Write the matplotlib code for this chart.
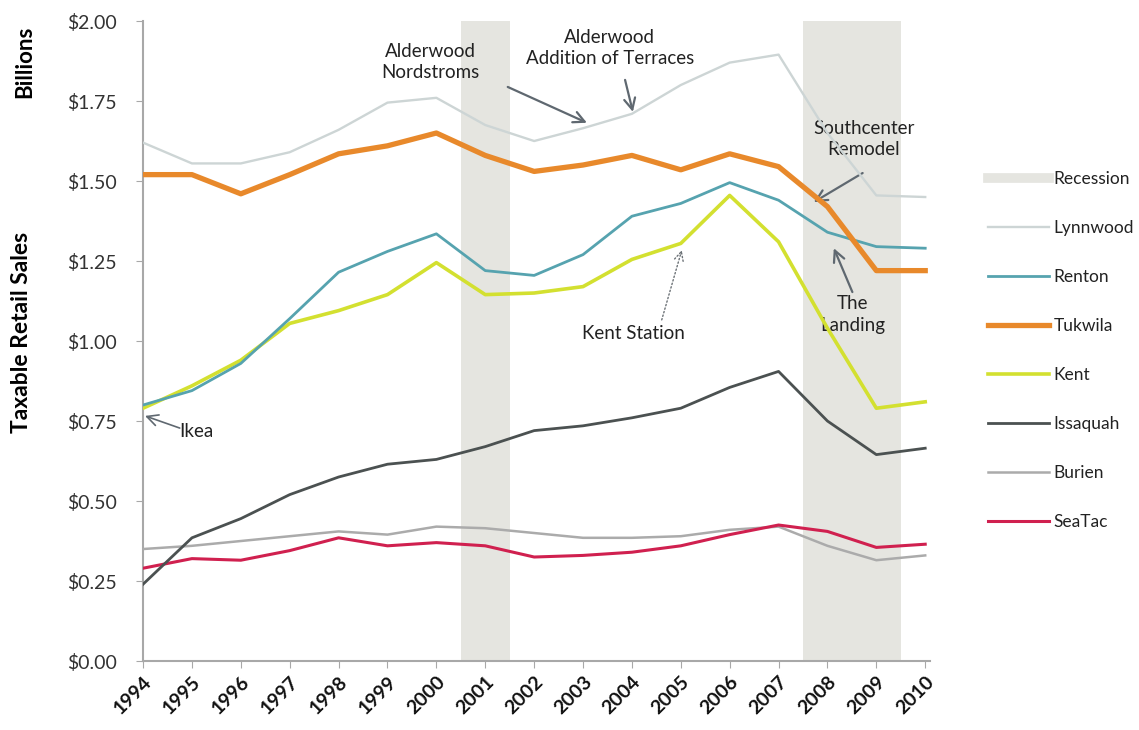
import matplotlib
matplotlib.use("Agg")
import matplotlib.pyplot as plt
import matplotlib.lines as mlines

plt.rcParams['font.family'] = ['Lato', 'DejaVu Sans']

years = list(range(1994, 2011))
lynnwood = [1.62, 1.555, 1.555, 1.59, 1.66, 1.745, 1.76, 1.675, 1.625, 1.665, 1.71, 1.80, 1.87, 1.895, 1.65, 1.455, 1.45]
renton = [0.80, 0.845, 0.93, 1.07, 1.215, 1.28, 1.335, 1.22, 1.205, 1.27, 1.39, 1.43, 1.495, 1.44, 1.34, 1.295, 1.29]
tukwila = [1.52, 1.52, 1.46, 1.52, 1.585, 1.61, 1.65, 1.58, 1.53, 1.55, 1.58, 1.535, 1.585, 1.545, 1.42, 1.22, 1.22]
kent = [0.79, 0.86, 0.94, 1.055, 1.095, 1.145, 1.245, 1.145, 1.15, 1.17, 1.255, 1.305, 1.455, 1.31, 1.04, 0.79, 0.81]
issaquah = [0.24, 0.385, 0.445, 0.52, 0.575, 0.615, 0.63, 0.67, 0.72, 0.735, 0.76, 0.79, 0.855, 0.905, 0.75, 0.645, 0.665]
burien = [0.35, 0.36, 0.375, 0.39, 0.405, 0.395, 0.42, 0.415, 0.40, 0.385, 0.385, 0.39, 0.41, 0.42, 0.36, 0.315, 0.33]
seatac = [0.29, 0.32, 0.315, 0.345, 0.385, 0.36, 0.37, 0.36, 0.325, 0.33, 0.34, 0.36, 0.395, 0.425, 0.405, 0.355, 0.365]
recessions = [(2000.5, 2001.5), (2007.5, 2009.5)]
yticks = [0.0, 0.25, 0.5, 0.75, 1.0, 1.25, 1.5, 1.75, 2.0]
ytick_labels = ["$0.00", "$0.25", "$0.50", "$0.75", "$1.00", "$1.25", "$1.50", "$1.75", "$2.00"]

fig = plt.figure(figsize=(11.39, 7.30), dpi=100)
ax = fig.add_axes([0.1256, 0.0945, 0.691, 0.8767])

rec_color = '#e5e5e0'
for a, b in recessions:
    ax.axvspan(a, b, color=rec_color, zorder=0, lw=0)

series = [
    ("Lynnwood", lynnwood, '#cdd5d5', 1.7),
    ("Renton", renton, '#56a3af', 2.0),
    ("Tukwila", tukwila, '#e8892b', 3.8),
    ("Kent", kent, '#d3e030', 2.6),
    ("Issaquah", issaquah, '#4b5151', 2.0),
    ("Burien", burien, '#ababab', 1.8),
    ("SeaTac", seatac, '#d0204f', 2.2),
]
handles = [mlines.Line2D([], [], color=rec_color, lw=7, label="Recession")]
draw_order = ["Burien", "SeaTac", "Issaquah", "Kent", "Renton", "Tukwila", "Lynnwood"]
for name, vals, col, lw in series:
    ln, = ax.plot(years, vals, color=col, lw=lw, label=name, zorder=3 + draw_order.index(name) * 0.1)
    handles.append(ln)

ax.set_xlim(1994, 2010.1)
ax.set_ylim(0, 2.0)
ax.set_yticks(yticks)
ax.set_yticklabels(ytick_labels, fontsize=14, color='#333333')
ax.set_xticks(years)
ax.set_xticklabels([str(y) for y in years], rotation=45, ha='right', rotation_mode='anchor',
                   fontsize=14, fontweight='bold', color='#111111')
for s in ['top', 'right']:
    ax.spines[s].set_visible(False)
for s in ['left', 'bottom']:
    ax.spines[s].set_color('#a8a8a8')
    ax.spines[s].set_linewidth(1.5)
ax.tick_params(axis='y', length=5, color='#a8a8a8', pad=14)
ax.tick_params(axis='x', length=5, color='#a8a8a8', pad=4)

fig.text(0.022, 0.915, "Billions", rotation=90, fontsize=16, fontweight='bold', ha='center', va='center')
fig.text(0.019, 0.545, "Taxable Retail Sales", rotation=90, fontsize=16.5, fontweight='bold', ha='center', va='center')

leg = fig.legend(handles=handles, loc='upper left', bbox_to_anchor=(0.8535, 0.787), frameon=False,
                 fontsize=12.5, labelspacing=1.9, handlelength=3.5, handletextpad=0.3)
for t in leg.get_texts():
    t.set_color('#222222')

ann_fs = 13.5
tc = '#222222'
arrow_kw = dict(arrowstyle='->', color='#5f6870', lw=1.6, mutation_scale=20, shrinkA=0, shrinkB=0)

ax.text(1999.88, 1.872, "Alderwood\nNordstroms", ha='center', va='center', fontsize=ann_fs, color=tc, linespacing=1.25)
ax.annotate("", xy=(2003.08, 1.682), xytext=(2001.46, 1.794), arrowprops=arrow_kw)

ax.text(2003.55, 1.916, "Alderwood\nAddition of Terraces", ha='center', va='center', fontsize=ann_fs, color=tc, linespacing=1.25)
ax.annotate("", xy=(2004.02, 1.716), xytext=(2003.86, 1.816), arrowprops=arrow_kw)

ax.text(2008.74, 1.631, "Southcenter\nRemodel", ha='center', va='center', fontsize=ann_fs, color=tc, linespacing=1.25)
ax.annotate("", xy=(2007.72, 1.434), xytext=(2008.72, 1.525), arrowprops=arrow_kw)

ax.text(2008.51, 1.084, "The\nLanding", ha='center', va='center', fontsize=ann_fs, color=tc, linespacing=1.35)
ax.annotate("", xy=(2008.13, 1.29), xytext=(2008.51, 1.153), arrowprops=arrow_kw)

ax.text(2004.04, 1.025, "Kent Station", ha='center', va='center', fontsize=ann_fs, color=tc)
ax.annotate("", xy=(2005.02, 1.284), xytext=(2004.61, 1.066),
            arrowprops=dict(arrowstyle='->', color='#6a7075', lw=1.0, ls=':', mutation_scale=16, shrinkA=0, shrinkB=0))

ax.text(1995.1, 0.716, "Ikea", ha='center', va='center', fontsize=ann_fs, color=tc)
ax.annotate("", xy=(1994.04, 0.766), xytext=(1994.75, 0.728),
            arrowprops=dict(arrow_kw, lw=1.2))

fig.savefig("out.png", dpi=100)
